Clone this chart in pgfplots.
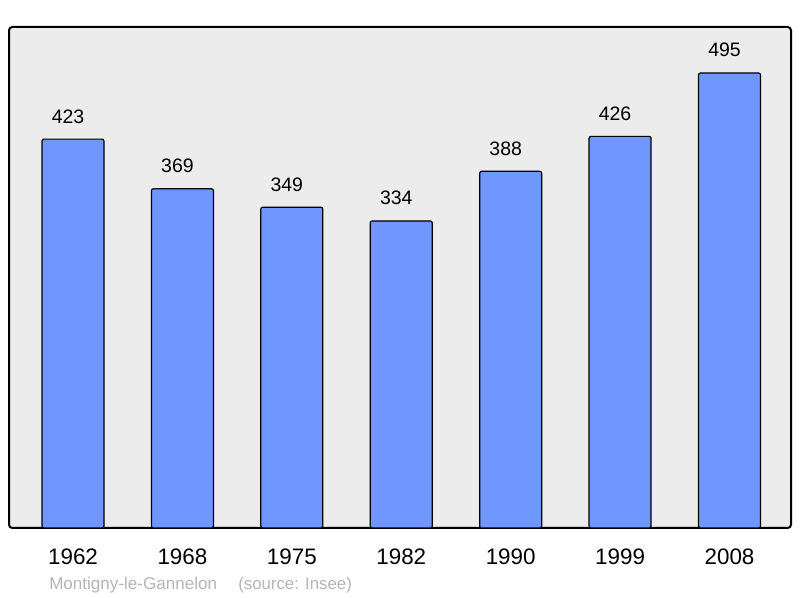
\documentclass[border=0pt]{standalone}
\usepackage{pgfplots}
\pgfplotsset{compat=1.18}
\usepackage{fontspec}
\setmainfont{Liberation Sans}
\definecolor{barblue}{HTML}{7096FF}
\definecolor{bggray}{HTML}{ECECEC}
\definecolor{srcgray}{HTML}{B4B4B4}
\begin{document}
\begin{tikzpicture}[x=1pt,y=1pt]
\useasboundingbox (0,0) rectangle (600,448.5);
\begin{axis}[
  at={(6.75pt,52.5pt)}, anchor=south west,
  scale only axis, width=586.5pt, height=375.75pt,
  xmin=-0.585, xmax=6.562, ymin=0, ymax=545,
  axis background/.style={fill=bggray, draw=black, line width=1.5pt, rounded corners=2.5pt},
  axis line style={draw=none},
  xtick=data, xticklabels={1962,1968,1975,1982,1990,1999,2008},
  xtick style={draw=none}, ytick=\empty,
  xticklabel style={anchor=base, yshift=-23.25pt, font=\fontsize{16.8}{18}\selectfont, inner sep=0pt},
  /pgf/number format/assume math mode=true,
  ybar, bar width=46.5pt,
  nodes near coords,
  every node near coord/.append style={anchor=base, yshift=12pt, xshift=-3.75pt, inner sep=0pt, font=\fontsize{14.6}{16}\selectfont, black},
  clip=false,
]
\addplot[fill=barblue, draw=black, line width=0.9pt, rounded corners=1.5pt] coordinates {
(0,423) (1,369) (2,349) (3,334) (4,388) (5,426) (6,495)};
\end{axis}
\node[anchor=base west, inner sep=0pt, text=srcgray, font=\fontsize{12.8}{14}\selectfont] at (36.75,6) {Montigny-le-Gannelon};
\node[anchor=base west, inner sep=0pt, text=srcgray, font=\fontsize{12.6}{14}\selectfont] at (178.5,6) {(source: Insee)};
\end{tikzpicture}
\end{document}
